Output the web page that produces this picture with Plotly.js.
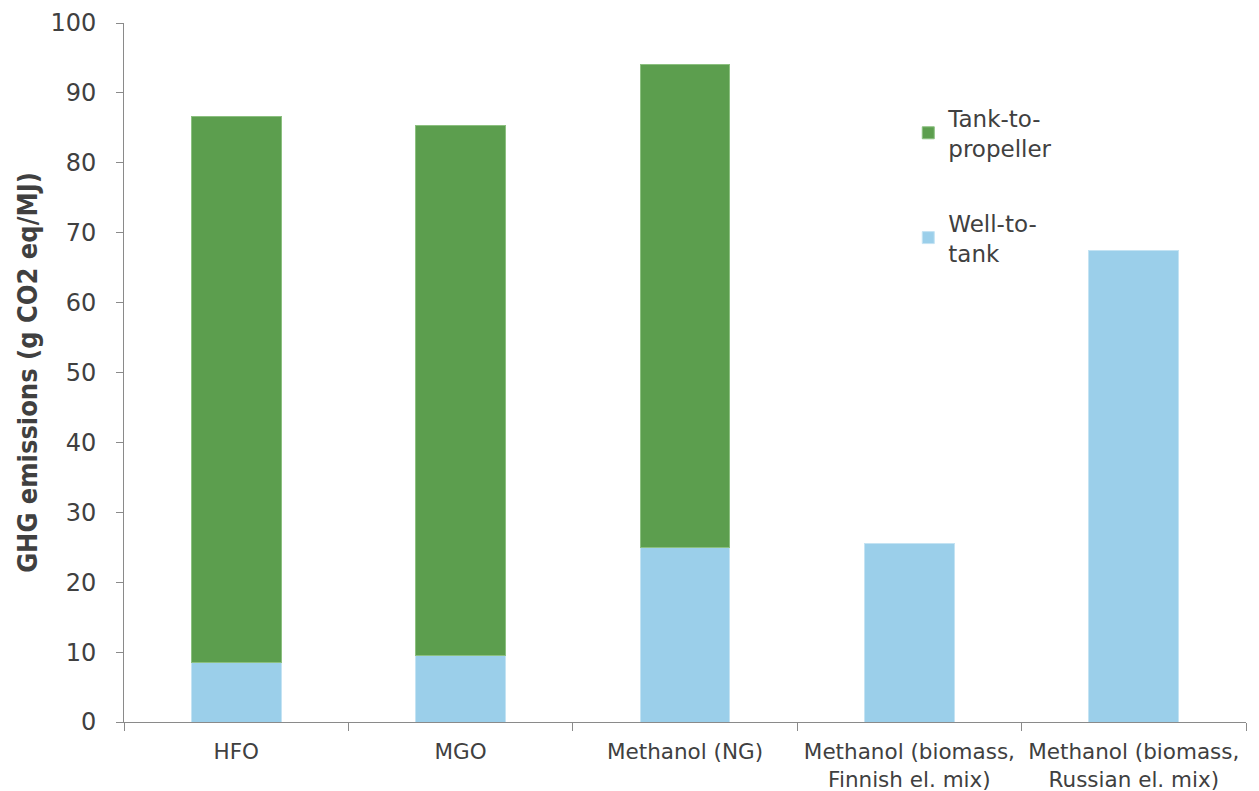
<!DOCTYPE html>
<html>
<head>
<meta charset="utf-8">
<script src="https://cdn.plot.ly/plotly-3.0.1.min.js"></script>
<style>html,body{margin:0;padding:0;background:#fff;}#chart{width:1259px;height:791px;}</style>
</head>
<body>
<div id="chart"></div>
<script>
const categories = ["HFO", "MGO", "Methanol (NG)", "Methanol (biomass,<br>Finnish el. mix)", "Methanol (biomass,<br>Russian el. mix)"];
const wellToTank = [8.5, 9.5, 25.0, 25.6, 67.5];
const tankToPropeller = [78.1, 75.8, 69.0, null, null];
const yTicks = [0, 10, 20, 30, 40, 50, 60, 70, 80, 90, 100];

const traces = [
  {type: "bar", name: "Well-to-<br>tank", x: categories, y: wellToTank,
   marker: {color: "#9BCFEA", line: {color: "#C4E3F3", width: 1}}, legendgroup: "wtt", legendrank: 2},
  {type: "bar", name: "Tank-to-<br>propeller", x: categories, y: tankToPropeller,
   marker: {color: "#5C9E4E", line: {color: "#8CC080", width: 1}}, legendgroup: "ttp", legendrank: 1}
];

const layout = {
  width: 1259, height: 791,
  margin: {l: 124, r: 13, t: 23, b: 69},
  paper_bgcolor: "#fff", plot_bgcolor: "#fff",
  barmode: "stack", bargap: 0.6,
  showlegend: true,
  legend: {x: 0.699, y: 0.895, xanchor: "left", yanchor: "top", traceorder: "grouped",
           tracegroupgap: 42, font: {family: "DejaVu Sans, Verdana, sans-serif", size: 23, color: "#404040"},
           bgcolor: "rgba(0,0,0,0)"},
  xaxis: {showline: true, linecolor: "#8A8A8A", linewidth: 1, ticks: "outside", tickson: "boundaries",
          ticklen: 8, tickcolor: "#8A8A8A", showgrid: false, zeroline: false, ticklabelstandoff: 10,
          tickangle: 0, automargin: false,
          tickfont: {family: "DejaVu Sans, Verdana, sans-serif", size: 21.5, color: "#404040"}},
  yaxis: {range: [0, 100], tickvals: yTicks, ticktext: yTicks.map(String), showline: true, linecolor: "#8A8A8A",
          linewidth: 1, ticks: "outside", ticklen: 7, tickcolor: "#8A8A8A", showgrid: false, zeroline: false,
          ticklabelstandoff: 15,
          tickfont: {family: "DejaVu Sans, Verdana, sans-serif", size: 24, color: "#404040"},
          title: {text: "GHG emissions (g CO2 eq/MJ)", standoff: 4,
                  font: {family: "DejaVu Sans Condensed, sans-serif", size: 27, color: "#404040", weight: "bold"}}}
};

Plotly.newPlot("chart", traces, layout, {displayModeBar: false, staticPlot: true});
</script>
</body>
</html>
